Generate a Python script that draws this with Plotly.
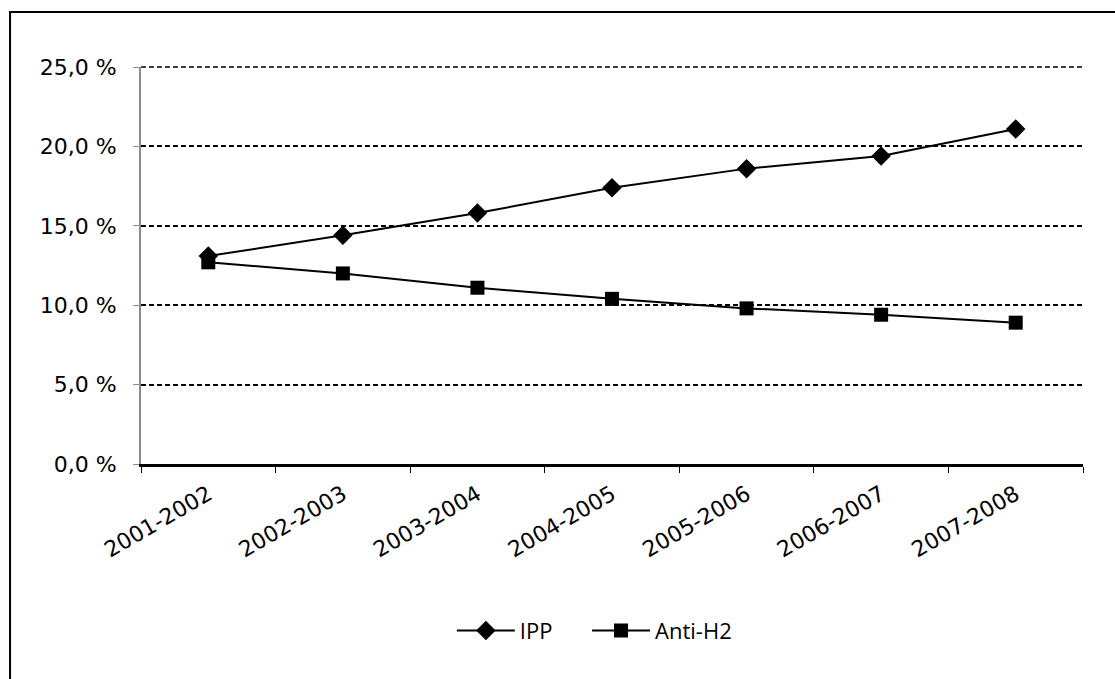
import plotly.graph_objects as go

categories = ["2001-2002", "2002-2003", "2003-2004", "2004-2005",
              "2005-2006", "2006-2007", "2007-2008"]
ipp = [13.1, 14.4, 15.8, 17.4, 18.6, 19.4, 21.1]
anti_h2 = [12.7, 12.0, 11.1, 10.4, 9.8, 9.4, 8.9]
y_ticks = [0, 5, 10, 15, 20, 25]
y_tick_labels = ["0,0 %", "5,0 %", "10,0 %", "15,0 %", "20,0 %", "25,0 %"]
y_max = 25

fig = go.Figure()
fig.add_trace(go.Scatter(
    x=categories, y=ipp, name="IPP", mode="lines+markers",
    line=dict(color="black", width=2),
    marker=dict(symbol="diamond", size=15, color="black"),
    legend="legend",
))
fig.add_trace(go.Scatter(
    x=categories, y=anti_h2, name="Anti-H2", mode="lines+markers",
    line=dict(color="black", width=2),
    marker=dict(symbol="square", size=14, color="black"),
    legend="legend2",
))

axis_font = dict(family="DejaVu Sans", size=22, color="black")
legend_font = dict(family="Open Sans", size=22, color="black")

fig.update_layout(
    width=1115, height=679,
    margin=dict(l=141, r=32, t=67, b=215),
    paper_bgcolor="white", plot_bgcolor="white",
    showlegend=True,
    legend=dict(
        orientation="h", x=0.330, xanchor="left", y=-0.42, yanchor="middle",
        font=legend_font, itemwidth=58, bgcolor="rgba(0,0,0,0)",
    ),
    legend2=dict(
        orientation="h", x=0.4735, xanchor="left", y=-0.42, yanchor="middle",
        font=legend_font, itemwidth=58, bgcolor="rgba(0,0,0,0)",
    ),
    xaxis=dict(
        type="category", tickson="boundaries",
        showline=True, linecolor="black", linewidth=3,
        ticks="outside", ticklen=6, tickcolor="black", tickwidth=1,
        showgrid=False, tickangle=-30, tickfont=axis_font,
        range=[-0.5, 6.5], ticklabelstandoff=6,
    ),
    yaxis=dict(
        range=[0, y_max], tickvals=y_ticks, ticktext=y_tick_labels,
        showline=True, linecolor="#8c8c8c", linewidth=2,
        ticks="outside", ticklen=6, tickcolor="#8c8c8c", tickwidth=1,
        showgrid=True, gridcolor="black", gridwidth=1.5, griddash="5px,3px",
        zeroline=False, tickfont=axis_font, ticklabelstandoff=12,
    ),
    shapes=[
        dict(
            type="line", xref="paper", yref="paper",
            x0=0, x1=1, y0=1, y1=1,
            line=dict(color="black", width=1.5, dash="5px,3px"),
            layer="below",
        ),
        dict(
            type="rect", xref="paper", yref="paper",
            x0=-0.139, y0=-0.8, x1=1.2, y1=1.1385,
            line=dict(color="black", width=2), fillcolor="rgba(0,0,0,0)",
            layer="above",
        ),
    ],
)

fig.write_html("out.html")
